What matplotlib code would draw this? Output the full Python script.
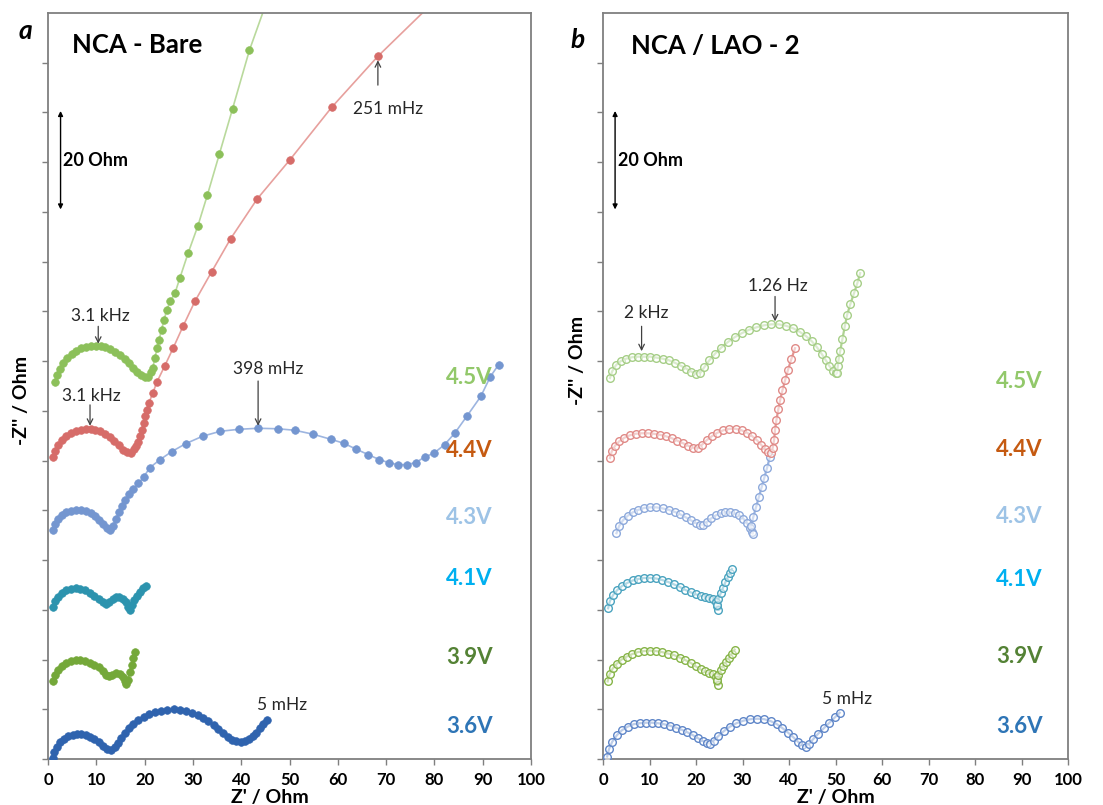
import matplotlib
matplotlib.use("Agg")
import matplotlib.pyplot as plt

plt.rcParams['font.family'] = ['Lato', 'DejaVu Sans']

# ---------------- data: panel a (NCA - Bare) ----------------
a36_x = [1.0,1.3,1.8,2.5,3.3,4.2,5.1,6.0,6.9,7.8,8.7,9.6,10.5,11.4,12.3,13.1,13.8,14.5,15.2,16.0,16.8,17.7,18.7,19.8,20.9,22.1,23.4,24.7,26.0,27.3,28.6,29.8,31.0,32.1,33.2,34.3,35.3,36.3,37.2,38.1,39.0,39.9,40.8,41.6,42.4,43.1,43.8,44.6,45.3]
a36_y = [0.2,1.5,2.5,3.4,4.1,4.6,4.9,5.0,5.0,4.8,4.5,4.0,3.4,2.7,2.1,1.8,2.4,3.2,4.2,5.3,6.3,7.1,7.8,8.5,9.0,9.4,9.7,9.9,10.0,9.9,9.6,9.3,8.9,8.3,7.6,6.9,6.0,5.2,4.5,3.9,3.6,3.5,3.6,4.0,4.6,5.3,6.2,7.0,7.8]

a39_x = [1.0,1.4,2.0,2.8,3.7,4.7,5.7,6.7,7.7,8.7,9.6,10.5,11.3,12.1,12.6,13.3,14.1,14.9,15.5,15.9,16.2,16.5,16.9,17.3,17.7,18.1]
a39_y = [15.6,16.8,17.8,18.7,19.4,19.8,19.9,19.9,19.7,19.4,19.0,18.4,17.6,16.9,16.6,16.8,17.2,17.1,16.5,15.6,15.1,15.8,17.5,19.0,20.3,21.5]

a41_x = [1.0,1.4,2.0,2.8,3.7,4.7,5.7,6.7,7.7,8.7,9.6,10.5,11.3,12.0,12.7,13.4,14.1,14.8,15.5,16.1,16.6,17.0,17.4,17.9,18.5,19.1,19.7,20.2]
a41_y = [30.6,31.7,32.6,33.4,33.9,34.2,34.3,34.2,33.9,33.4,32.8,32.1,31.5,31.2,31.5,32.1,32.5,32.5,32.2,31.6,30.6,30.0,31.0,32.0,32.8,33.6,34.3,34.7]

a43_x = [1.1,1.5,2.1,2.9,3.8,4.8,5.8,6.8,7.8,8.8,9.7,10.6,11.4,12.2,12.9,13.5,14.1,14.7,15.3,16.0,16.8,17.7,18.7,19.8,21.1,23.2,25.6,28.5,32.0,35.7,39.6,43.5,47.6,51.1,54.9,58.5,61.2,63.8,66.3,68.6,70.5,72.4,74.4,76.1,78.0,79.9,82.1,84.2,86.7,89.6,91.6,93.3]
a43_y = [46.1,47.3,48.3,49.1,49.6,49.9,50.0,50.0,49.8,49.4,48.8,48.0,47.2,46.5,46.1,46.9,48.2,49.6,50.9,52.1,53.2,54.3,55.4,56.7,58.6,60.2,61.8,63.4,64.9,65.9,66.3,66.5,66.4,66.1,65.3,64.3,63.5,62.3,61.2,60.2,59.6,59.2,59.2,59.6,60.7,61.5,63.2,65.5,68.9,72.9,76.9,79.3]

a44_x = [1.1,1.5,2.1,2.9,3.8,4.8,5.8,6.8,7.8,8.8,9.8,10.8,11.8,12.8,13.7,14.6,15.5,16.4,17.2,17.8,18.3,18.7,19.1,19.4,19.8,20.1,20.5,20.9,21.7,22.6,24.2,25.9,28.0,30.4,33.9,37.8,43.3,50.1,58.7,68.3,79.1]
a44_y = [60.8,62.0,63.2,64.2,65.0,65.6,66.0,66.2,66.3,66.3,66.2,65.9,65.4,64.8,64.0,63.1,62.2,61.7,61.6,62.3,63.0,63.8,65.0,66.2,67.5,68.9,70.2,71.6,73.6,75.9,79.1,82.6,87.1,92.0,98.0,104.6,112.6,120.5,131.0,141.3,151.5]

a45_x = [1.5,1.9,2.5,3.2,4.0,4.9,5.9,6.9,7.9,8.9,9.9,10.9,11.9,12.9,13.9,14.9,15.9,16.8,17.7,18.5,19.3,20.1,20.8,21.3,21.7,22.1,22.6,23.0,23.5,24.0,24.6,25.3,26.3,27.3,29.0,31.0,33.0,35.5,38.2,41.7,45.0]
a45_y = [75.9,77.3,78.5,79.6,80.6,81.4,82.1,82.6,82.9,83.0,83.1,83.0,82.8,82.4,81.9,81.2,80.4,79.6,78.7,77.9,77.2,76.8,76.9,77.8,78.6,80.6,82.6,84.3,86.3,88.2,90.3,92.0,93.7,96.7,101.7,107.1,113.4,121.7,130.7,142.5,151.5]

# ---------------- data: panel b (NCA / LAO - 2) ----------------
b36_x = [0.9,1.3,2.0,3.0,4.1,5.3,6.6,7.9,9.2,10.5,11.8,13.1,14.4,15.7,16.9,18.1,19.3,20.4,21.5,22.4,23.0,23.8,24.8,26.0,27.3,28.7,30.2,31.7,33.2,34.7,36.1,37.4,38.6,39.8,40.9,41.9,42.8,43.6,44.3,45.2,46.3,47.5,48.7,49.9,50.9]
b36_y = [0.5,2.0,3.5,4.8,5.8,6.5,7.0,7.2,7.3,7.3,7.2,7.0,6.7,6.3,5.9,5.4,4.8,4.2,3.6,3.2,3.1,3.7,4.6,5.6,6.5,7.2,7.7,8.0,8.1,8.0,7.6,7.0,6.2,5.3,4.4,3.5,2.8,2.5,3.0,4.0,5.1,6.2,7.3,8.4,9.3]

b39_x = [1.0,1.4,2.1,3.0,4.0,5.1,6.3,7.5,8.8,10.1,11.4,12.7,14.0,15.3,16.5,17.7,18.9,20.0,21.0,22.0,22.9,23.7,24.3,24.6,24.8,24.6,24.8,25.3,25.9,26.5,27.1,27.7,28.3]
b39_y = [15.6,17.0,18.2,19.2,20.0,20.6,21.1,21.5,21.7,21.8,21.7,21.5,21.2,20.9,20.4,19.9,19.3,18.6,18.0,17.6,17.3,17.0,16.4,15.6,14.9,15.8,16.8,17.8,18.8,19.6,20.4,21.2,22.0]

b41_x = [1.1,1.5,2.2,3.1,4.1,5.2,6.4,7.6,8.8,10.1,11.4,12.7,14.0,15.3,16.5,17.7,18.9,20.0,21.0,22.0,22.9,23.7,24.3,24.6,24.8,24.6,24.8,25.3,25.8,26.3,26.8,27.3,27.7]
b41_y = [30.3,31.8,33.0,34.0,34.8,35.4,35.9,36.2,36.4,36.4,36.3,36.0,35.6,35.1,34.6,34.0,33.5,33.1,32.8,32.6,32.4,32.2,31.6,30.8,30.0,31.0,32.2,33.3,34.4,35.5,36.5,37.4,38.2]

b43_x = [2.9,3.5,4.3,5.3,6.4,7.6,8.9,10.2,11.5,12.8,14.1,15.4,16.6,17.8,18.9,19.9,20.8,21.6,22.4,23.3,24.3,25.3,26.3,27.3,28.3,29.3,30.2,31.0,31.6,32.0,32.2,31.9,32.3,32.9,33.5,34.1,34.7,35.3,35.9]
b43_y = [45.4,46.9,48.0,48.9,49.6,50.1,50.5,50.6,50.6,50.4,50.1,49.7,49.2,48.6,48.0,47.5,47.1,47.1,47.7,48.4,49.0,49.4,49.6,49.6,49.4,49.0,48.3,47.4,46.4,45.6,45.3,46.8,48.6,50.6,52.6,54.6,56.6,58.6,60.8]

b44_x = [1.5,1.9,2.6,3.5,4.6,5.8,7.0,8.3,9.6,10.9,12.2,13.5,14.8,16.0,17.2,18.3,19.4,20.4,21.3,22.3,23.4,24.6,25.9,27.2,28.5,29.8,31.0,32.1,33.1,34.0,34.8,35.5,36.2,36.5,36.8,37.0,37.3,37.7,38.1,38.6,39.2,39.8,40.5,41.3]
b44_y = [60.5,61.9,63.0,63.9,64.6,65.1,65.4,65.5,65.5,65.4,65.2,64.9,64.5,64.0,63.5,63.0,62.6,62.5,63.2,64.1,64.9,65.6,66.1,66.4,66.4,66.1,65.6,64.9,64.1,63.2,62.3,61.7,61.5,62.6,64.2,66.2,68.2,70.3,72.2,74.2,76.3,78.3,80.4,82.6]

b45_x = [1.5,2.0,2.8,3.8,5.0,6.3,7.6,8.9,10.2,11.5,12.8,14.1,15.4,16.7,17.9,19.0,20.0,20.9,21.8,22.9,24.1,25.4,26.8,28.3,29.8,31.4,33.0,34.6,36.2,37.8,39.4,40.9,42.3,43.7,44.9,46.0,47.0,47.9,48.7,49.4,50.0,50.3,50.5,50.7,51.0,51.5,52.0,52.5,53.2,54.0,54.7,55.3]
b45_y = [76.6,78.0,79.2,80.0,80.5,80.8,80.9,80.9,80.9,80.7,80.5,80.2,79.7,79.1,78.5,77.9,77.5,77.6,78.8,80.2,81.5,82.7,83.8,84.8,85.6,86.3,86.8,87.2,87.4,87.4,87.1,86.6,85.9,85.0,84.0,82.8,81.5,80.2,79.0,78.1,77.6,77.6,79.0,80.5,82.0,84.5,87.0,89.3,91.5,93.7,95.7,97.7]

volt_labels = ['4.5V', '4.4V', '4.3V', '4.1V', '3.9V', '3.6V']
volt_label_y_a = [76.7, 62.0, 48.5, 36.2, 20.5, 6.6]
volt_label_y_b = [75.9, 62.2, 48.8, 36.0, 20.6, 6.5]
volt_label_colors = ['#92C86A', '#C55A11', '#9DC3E6', '#00B0F0', '#548235', '#2E75B6']

x_ticks = [0, 10, 20, 30, 40, 50, 60, 70, 80, 90, 100]

# ---------------- figure ----------------
fig = plt.figure(figsize=(11.03, 8.05), dpi=100)
W, H = 1103, 805
def box(x0, x1, ytop, ybot):
    return [x0 / W, 1 - ybot / H, (x1 - x0) / W, (ybot - ytop) / H]

axA = fig.add_axes(box(48, 531, 13, 759))
axB = fig.add_axes(box(603, 1068, 13, 759))

for ax in (axA, axB):
    ax.set_xlim(0, 100)
    ax.set_ylim(0, 150)
    ax.set_xticks(x_ticks)
    ax.set_xticklabels([str(t) for t in x_ticks], fontsize=12, fontweight='bold')
    ax.set_yticks(range(0, 150, 10))
    ax.set_yticklabels([])
    ax.tick_params(axis='both', direction='out', length=4, width=1, color='#7f7f7f', pad=5)
    for s in ax.spines.values():
        s.set_color('#7f7f7f')
        s.set_linewidth(1.3)

# panel a: filled markers
a_series = [
    (a36_x, a36_y, '#2F63AE', '#5A84C6'),
    (a39_x, a39_y, '#74A839', '#93BF5C'),
    (a41_x, a41_y, '#2C93AE', '#56A9C1'),
    (a43_x, a43_y, '#7496D0', '#9DB5E0'),
    (a44_x, a44_y, '#D66C69', '#E7A09D'),
    (a45_x, a45_y, '#8CC05A', '#B9D99C'),
]
for xs, ys, mc, lc in a_series:
    axA.plot(xs, ys, '-', color=lc, lw=1.2, zorder=2)
    axA.plot(xs, ys, 'o', color=mc, ms=5.5, mec=mc, mew=0.5, zorder=3)

# panel b: open markers
b_series = [
    (b36_x, b36_y, '#5F86C8'),
    (b39_x, b39_y, '#86B447'),
    (b41_x, b41_y, '#4AA3BF'),
    (b43_x, b43_y, '#8DA9DB'),
    (b44_x, b44_y, '#E08A87'),
    (b45_x, b45_y, '#A6CE87'),
]
for xs, ys, c in b_series:
    axB.plot(xs, ys, '-', color=c, lw=1.6, alpha=0.9, zorder=2)
    axB.plot(xs, ys, 'o', ms=5.5, mfc=(1, 1, 1, 0.55), mec=c, mew=1.0, zorder=3)

# voltage labels
for ax, xr, ys in ((axA, 92.0, volt_label_y_a), (axB, 94.6, volt_label_y_b)):
    for lab, y, c in zip(volt_labels, ys, volt_label_colors):
        ax.text(xr, y, lab, color=c, fontsize=16, fontweight='bold', ha='right', va='center', zorder=5)

# scale bars
for ax in (axA, axB):
    ax.annotate('', xy=(2.6, 110.5), xytext=(2.6, 130.3),
                arrowprops=dict(arrowstyle='<|-|>', color='black', lw=1.0, mutation_scale=7,
                                shrinkA=0, shrinkB=0))
    ax.text(3.2, 120.4, '20 Ohm', fontsize=13, fontweight='bold', ha='left', va='center')

# titles
axA.text(5.0, 143.5, 'NCA - Bare', fontsize=18.5, fontweight='bold', ha='left', va='center')
axB.text(6.0, 143.3, 'NCA / LAO - 2', fontsize=18.5, fontweight='bold', ha='left', va='center')
fig.text(25 / W, 1 - 31 / H, 'a', fontsize=19, fontweight='bold', style='italic', ha='center', va='center')
fig.text(578 / W, 1 - 40 / H, 'b', fontsize=19, fontweight='bold', style='italic', ha='center', va='center')

# axis labels
fig.text(22 / W, 1 - 400 / H, "-Z'' / Ohm", rotation=90, fontsize=14, fontweight='bold', ha='center', va='center')
fig.text(577 / W, 1 - 360 / H, "-Z'' / Ohm", rotation=90, fontsize=14, fontweight='bold', ha='center', va='center')
fig.text(270 / W, 1 - 797 / H, "Z' / Ohm", fontsize=14, fontweight='bold', ha='center', va='center')
fig.text(836 / W, 1 - 797 / H, "Z' / Ohm", fontsize=14, fontweight='bold', ha='center', va='center')

# frequency annotations
arr = dict(arrowstyle='->', color='#404040', lw=0.9, mutation_scale=10, shrinkA=0, shrinkB=0)
def note(ax, text, x_txt, y_txt, arrow=None):
    if arrow is not None:
        x0, y0, x1, y1 = arrow
        ax.annotate('', xy=(x1, y1), xytext=(x0, y0), arrowprops=arr)
    ax.text(x_txt, y_txt, text, fontsize=12.5, ha='center', va='center', color='#262626')

note(axA, '3.1 kHz', 10.8, 89.0, (10.4, 87.0, 10.4, 83.5))
note(axA, '3.1 kHz', 9.0, 73.0, (8.7, 71.2, 8.7, 67.0))
note(axA, '398 mHz', 45.5, 78.5, (43.5, 76.0, 43.5, 67.0))
note(axA, '251 mHz', 70.5, 130.6, (68.3, 135.5, 68.3, 140.5))
note(axA, '5 mHz', 48.5, 10.8)

note(axB, '2 kHz', 9.2, 89.6, (8.3, 87.0, 8.3, 82.0))
note(axB, '1.26 Hz', 37.5, 95.2, (37.0, 93.0, 37.0, 88.0))
note(axB, '5 mHz', 52.5, 12.0)

fig.savefig('out.png', dpi=100, facecolor='white')
